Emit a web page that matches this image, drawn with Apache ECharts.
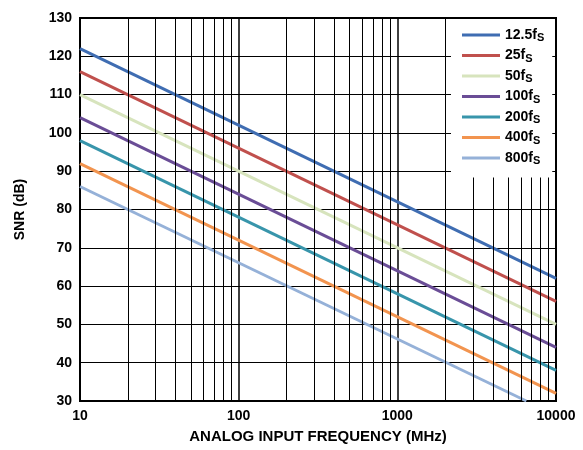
<!DOCTYPE html>
<html>
<head>
<meta charset="utf-8">
<script src="https://cdn.jsdelivr.net/npm/echarts@6/dist/echarts.min.js"></script>
<style>
  html, body { margin: 0; padding: 0; background: #fff; }
  #main { width: 583px; height: 450px; }
</style>
</head>
<body>
<div id="main"></div>
<script>
// jitter values (legend names, subscript S added in formatter)
const jitterNames = ['12.5f', '25f', '50f', '100f', '200f', '400f', '800f']
const lineColors = ['#3f6db2', '#c0504d', '#d7e4bd', '#6a4d96', '#3895ab', '#f2944f', '#95b1d8']
// SNR at start / end frequency for each line
const startFreq = [10, 10, 10, 10, 10, 10, 10]
const startSnr = [122, 116, 110, 104, 98, 92, 86]
const endFreq = [10000, 10000, 10000, 10000, 10000, 10000, 6500]
const endSnr = [62, 56, 50, 44, 38, 32, 30]
// minor vertical grid lines
const minorGrid = [20, 30, 40, 50, 60, 70, 80, 90, 200, 300, 400, 500, 600, 700, 800, 900,
  2000, 3000, 4000, 5000, 6000, 7000, 8000, 9000]

const font = "'Liberation Sans', Arial, sans-serif"

const series = jitterNames.map((name, i) => ({
  name: name,
  type: 'line',
  symbol: 'none',
  z: 3,
  lineStyle: { width: 3, color: lineColors[i] },
  itemStyle: { color: lineColors[i] },
  data: [[startFreq[i], startSnr[i]], [endFreq[i], endSnr[i]]]
}))

series.push({
  name: 'grid',
  type: 'line',
  data: [],
  z: 1,
  markLine: {
    silent: true,
    symbol: 'none',
    label: { show: false },
    lineStyle: { color: '#000', width: 1, type: 'solid' },
    data: minorGrid.map(v => ({ xAxis: v }))
  }
})

const chart = echarts.init(document.getElementById('main'))
chart.setOption({
  animation: false,
  grid: { left: 80, right: 27, top: 18, bottom: 49, show: true, borderColor: '#000', borderWidth: 2 },
  legend: {
    data: jitterNames,
    orient: 'vertical',
    left: 451,
    top: 19,
    z: 20,
    padding: [9, 8, 11, 11],
    backgroundColor: '#fff',
    icon: 'rect',
    itemWidth: 38,
    itemHeight: 3,
    itemGap: 5,
    formatter: name => '{n|' + name + '}{s|S}',
    textStyle: {
      fontFamily: font,
      fontWeight: 'bold',
      fontSize: 14,
      color: '#000',
      rich: {
        n: { fontSize: 14, fontWeight: 'bold', fontFamily: font, color: '#000' },
        s: { fontSize: 11, fontWeight: 'bold', fontFamily: font, color: '#000', padding: [6, 0, 0, 0] }
      }
    }
  },
  xAxis: {
    type: 'log',
    logBase: 10,
    min: 10,
    max: 10000,
    name: 'ANALOG INPUT FREQUENCY (MHz)',
    nameLocation: 'middle',
    nameGap: 28,
    nameTextStyle: { fontFamily: font, fontWeight: 'bold', fontSize: 15, color: '#000' },
    axisLine: { lineStyle: { color: '#000', width: 2 } },
    axisTick: { show: false },
    axisLabel: {
      fontFamily: font, fontWeight: 'bold', fontSize: 14, color: '#000', margin: 8,
      formatter: v => String(v)
    },
    splitLine: { show: true, lineStyle: { color: '#000', width: 1.5 } }
  },
  yAxis: {
    type: 'value',
    min: 30,
    max: 130,
    interval: 10,
    name: 'SNR (dB)',
    nameLocation: 'middle',
    nameGap: 53,
    nameTextStyle: { fontFamily: font, fontWeight: 'bold', fontSize: 14, color: '#000' },
    axisLine: { show: true, lineStyle: { color: '#000', width: 2 } },
    axisTick: { show: false },
    axisLabel: { fontFamily: font, fontWeight: 'bold', fontSize: 14, color: '#000', margin: 8 },
    splitLine: { show: true, lineStyle: { color: '#000', width: 1 } }
  },
  series: series
})
</script>
</body>
</html>
